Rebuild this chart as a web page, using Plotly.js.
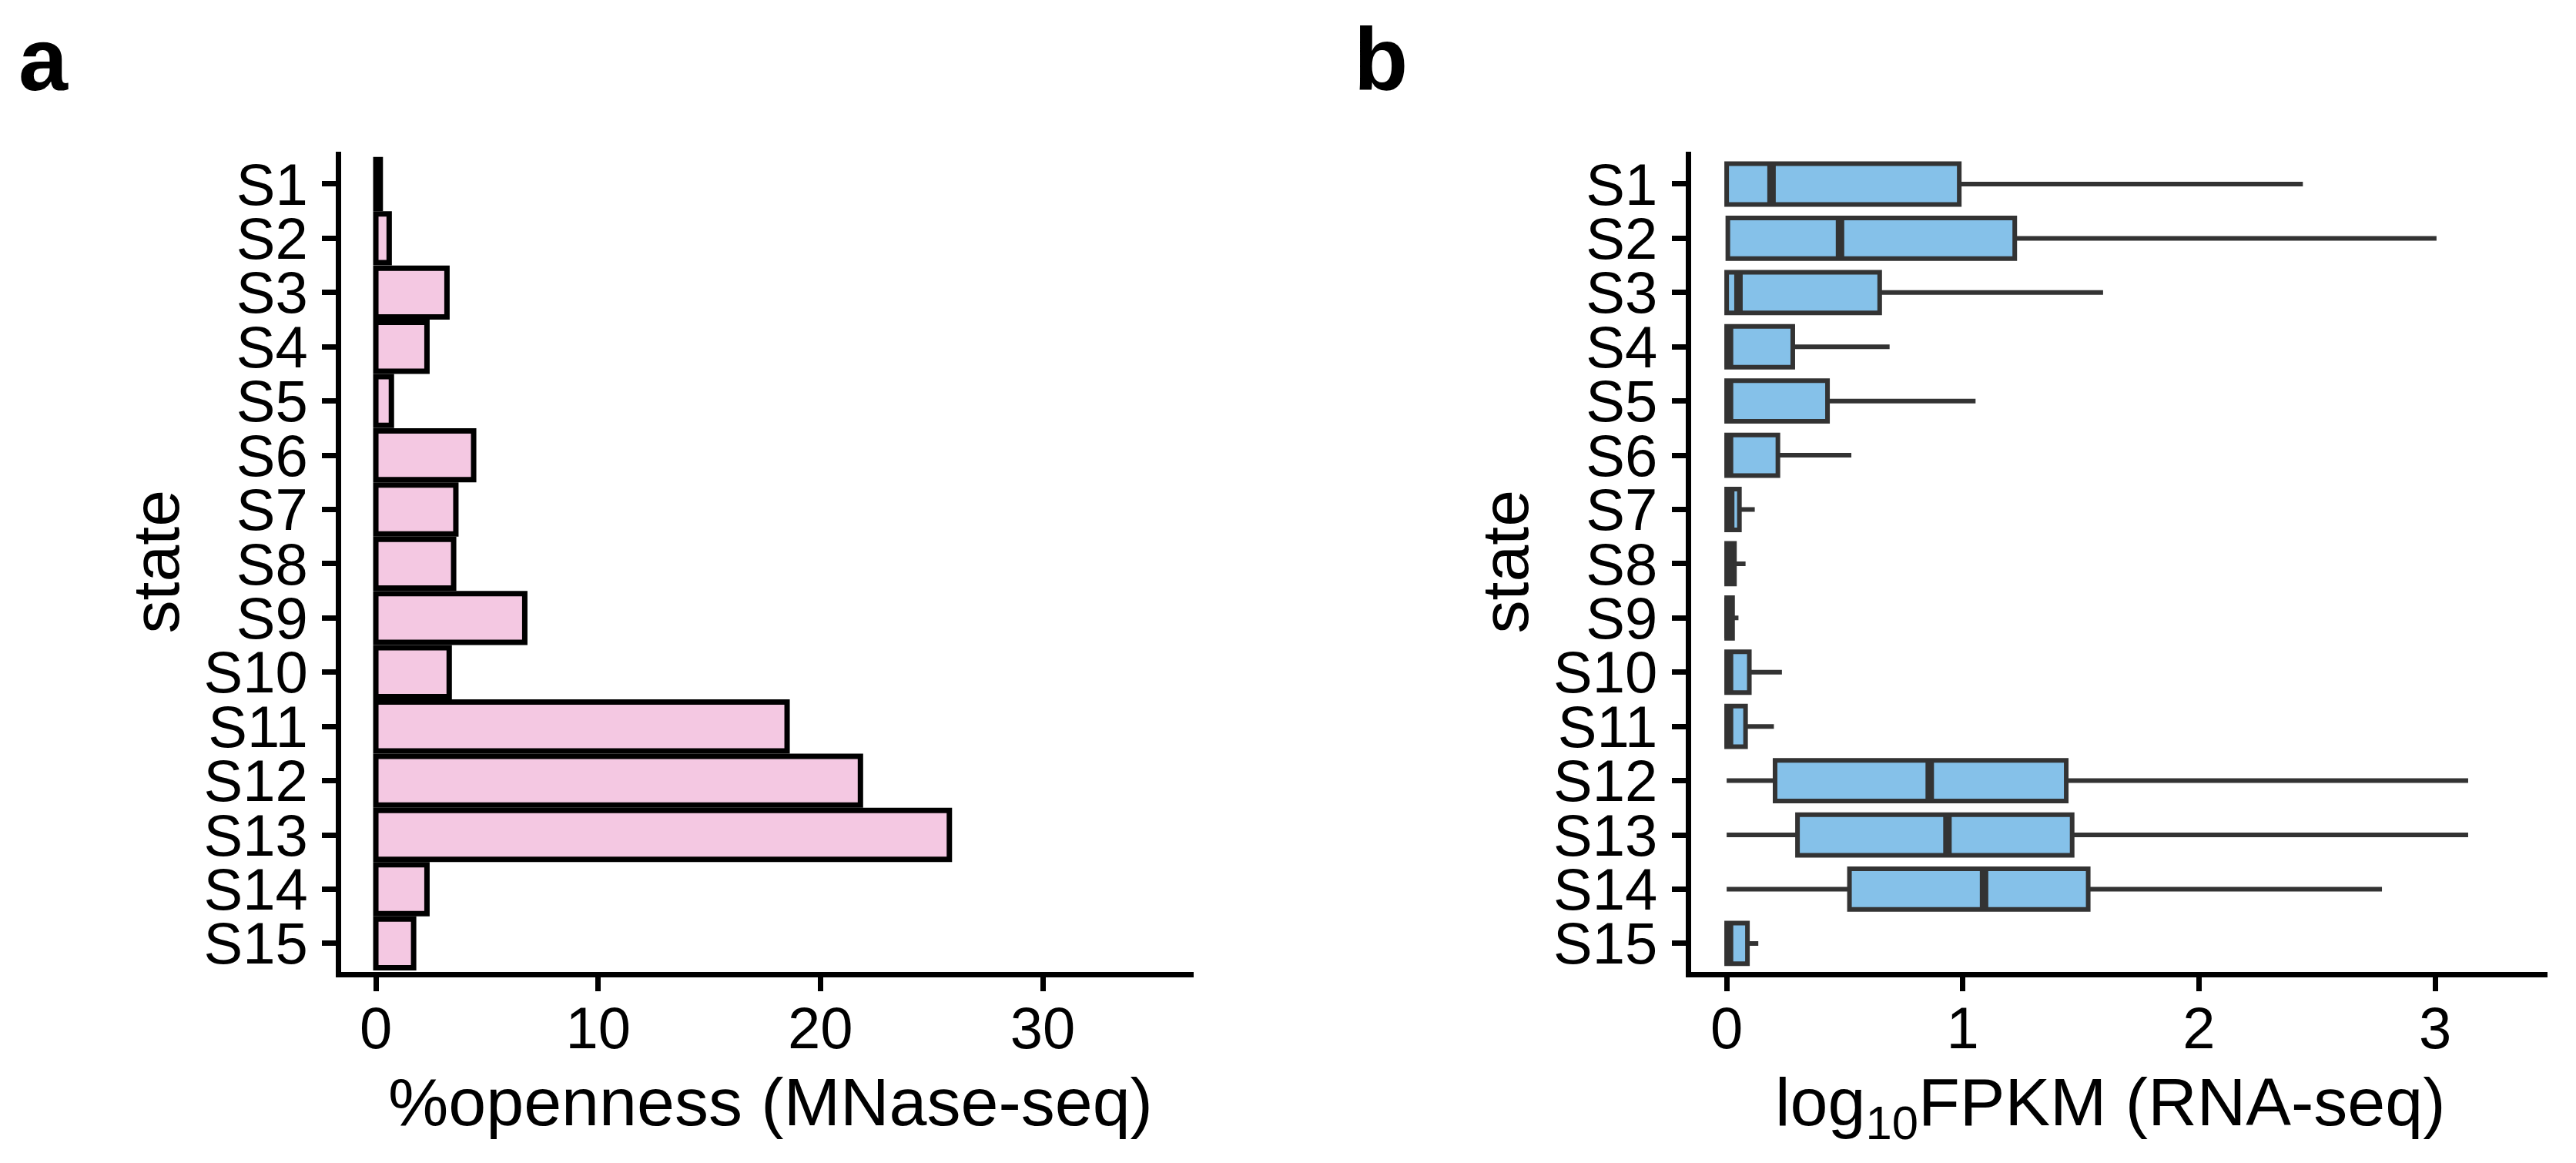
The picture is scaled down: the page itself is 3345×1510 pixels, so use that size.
<!DOCTYPE html>
<html><head><meta charset="utf-8">
<script src="https://cdn.plot.ly/plotly-3.0.1.min.js"></script>
<style>html,body{margin:0;padding:0;background:#fff}#chart{width:3345px;height:1510px}</style>
</head><body><div id="chart"></div>
<script>
// ---- data ----
const states = ['S1','S2','S3','S4','S5','S6','S7','S8','S9','S10','S11','S12','S13','S14','S15'];
const openness = [0.2, 0.6, 3.2, 2.3, 0.7, 4.4, 3.6, 3.5, 6.7, 3.3, 18.5, 21.8, 25.8, 2.3, 1.7];

const rnaLowerFence = [0, 0, 0, 0, 0, 0, 0, 0, 0, 0, 0, 0, 0, 0, 0];
const rnaQ1         = [0, 0.005, 0, 0, 0, 0, 0, 0, 0, 0, 0, 0.205, 0.30, 0.52, 0];
const rnaMedian     = [0.19, 0.48, 0.05, 0.01, 0.01, 0.01, 0.015, 0.01, 0.008, 0.01, 0.01, 0.86, 0.935, 1.09, 0.01];
const rnaQ3         = [0.985, 1.22, 0.648, 0.28, 0.427, 0.217, 0.054, 0.033, 0.025, 0.096, 0.08, 1.438, 1.463, 1.531, 0.088];
const rnaUpperFence = [2.44, 3.006, 1.594, 0.69, 1.054, 0.528, 0.119, 0.08, 0.05, 0.234, 0.2, 3.14, 3.14, 2.775, 0.134];

const xTicksA = [0, 10, 20, 30];
const xTicksB = [0, 1, 2, 3];

const titleA = '%openness (MNase-seq)';
const titleB = 'log<sub>10</sub>FPKM (RNA-seq)';
const titleY = 'state';

// ---- style ----
const FONT = 'Liberation Sans, Arial, Helvetica, sans-serif';
const TICK_SIZE = 76, TITLE_SIZE = 88;
const boxWidth = 0.75;
const W = 3345, H = 1510;

const axisCommon = {
  showline: true, linecolor: '#000', linewidth: 7,
  ticks: 'outside', ticklen: 18, tickwidth: 7, tickcolor: '#000',
  showgrid: false, zeroline: false, fixedrange: true,
  tickfont: {family: FONT, size: TICK_SIZE, color: '#000'}
};

const barTrace = {
  type: 'bar', orientation: 'h',
  x: openness, y: states,
  xaxis: 'x', yaxis: 'y',
  width: 0.9,
  marker: {color: '#f4c8e2', line: {color: '#000', width: 7}},
  hoverinfo: 'skip', showlegend: false
};

const boxTrace = {
  type: 'box', orientation: 'h',
  y: states,
  q1: rnaQ1, median: rnaMedian, q3: rnaQ3,
  lowerfence: rnaLowerFence, upperfence: rnaUpperFence,
  xaxis: 'x2', yaxis: 'y2',
  width: boxWidth, whiskerwidth: 0,
  boxpoints: false,
  fillcolor: '#85c1e9',
  line: {color: '#333333', width: 6},
  hoverinfo: 'skip', showlegend: false
};

// thicker median lines (ggplot style)
const medianShapes = states.map((s, i) => ({
  type: 'line', xref: 'x2', yref: 'y2', layer: 'above',
  x0: rnaMedian[i], x1: rnaMedian[i],
  y0: i - boxWidth / 2, y1: i + boxWidth / 2,
  line: {color: '#333333', width: 11}
}));

const yDomain = [1 - 1261.5 / H, 1 - 197 / H];

function catAxis(extra) {
  return Object.assign({}, axisCommon, {
    domain: yDomain,
    type: 'category', categoryorder: 'array', categoryarray: states,
    tickmode: 'array', tickvals: states, ticktext: states,
    range: [14.52, -0.596],
    ticklabelstandoff: 3,
    title: {text: titleY, font: {family: FONT, size: 86, color: '#000'}, standoff: 6}
  }, extra);
}

const xTitleTop = 1 - (1460 - 0.905 * TITLE_SIZE - 1) / H;

const layout = {
  width: W, height: H,
  margin: {l: 0, r: 0, t: 0, b: 0},
  paper_bgcolor: '#fff', plot_bgcolor: '#fff',
  showlegend: false,
  xaxis: Object.assign({}, axisCommon, {
    domain: [443 / W, 1550 / W], anchor: 'y',
    range: [-1.56, 36.79], tickmode: 'array', tickvals: xTicksA, ticktext: xTicksA.map(String),
    ticklabelstandoff: -17
  }),
  yaxis: catAxis({anchor: 'x'}),
  xaxis2: Object.assign({}, axisCommon, {
    domain: [2195.5 / W, 3308 / W], anchor: 'y2',
    range: [-0.152, 3.476], tickmode: 'array', tickvals: xTicksB, ticktext: xTicksB.map(String),
    ticklabelstandoff: -17
  }),
  yaxis2: catAxis({anchor: 'x2'}),
  shapes: medianShapes,
  annotations: [
    {text: titleA, xref: 'paper', yref: 'paper', x: 1000 / W, y: xTitleTop,
     xanchor: 'center', yanchor: 'top', showarrow: false,
     font: {family: FONT, size: TITLE_SIZE, color: '#000'}},
    {text: titleB, xref: 'paper', yref: 'paper', x: 2740 / W, y: xTitleTop,
     xanchor: 'center', yanchor: 'top', showarrow: false,
     font: {family: FONT, size: TITLE_SIZE, color: '#000'}},
    {text: '<b>a</b>', xref: 'paper', yref: 'paper', x: 22 / W, y: 1 - 77 / H,
     xanchor: 'left', yanchor: 'middle', showarrow: false,
     font: {family: FONT, size: 115, color: '#000'}},
    {text: '<b>b</b>', xref: 'paper', yref: 'paper', x: 1756 / W, y: 1 - 77 / H,
     xanchor: 'left', yanchor: 'middle', showarrow: false,
     font: {family: FONT, size: 115, color: '#000'}}
  ]
};

Plotly.newPlot('chart', [barTrace, boxTrace], layout, {displayModeBar: false, staticPlot: true});
</script>
</body></html>
